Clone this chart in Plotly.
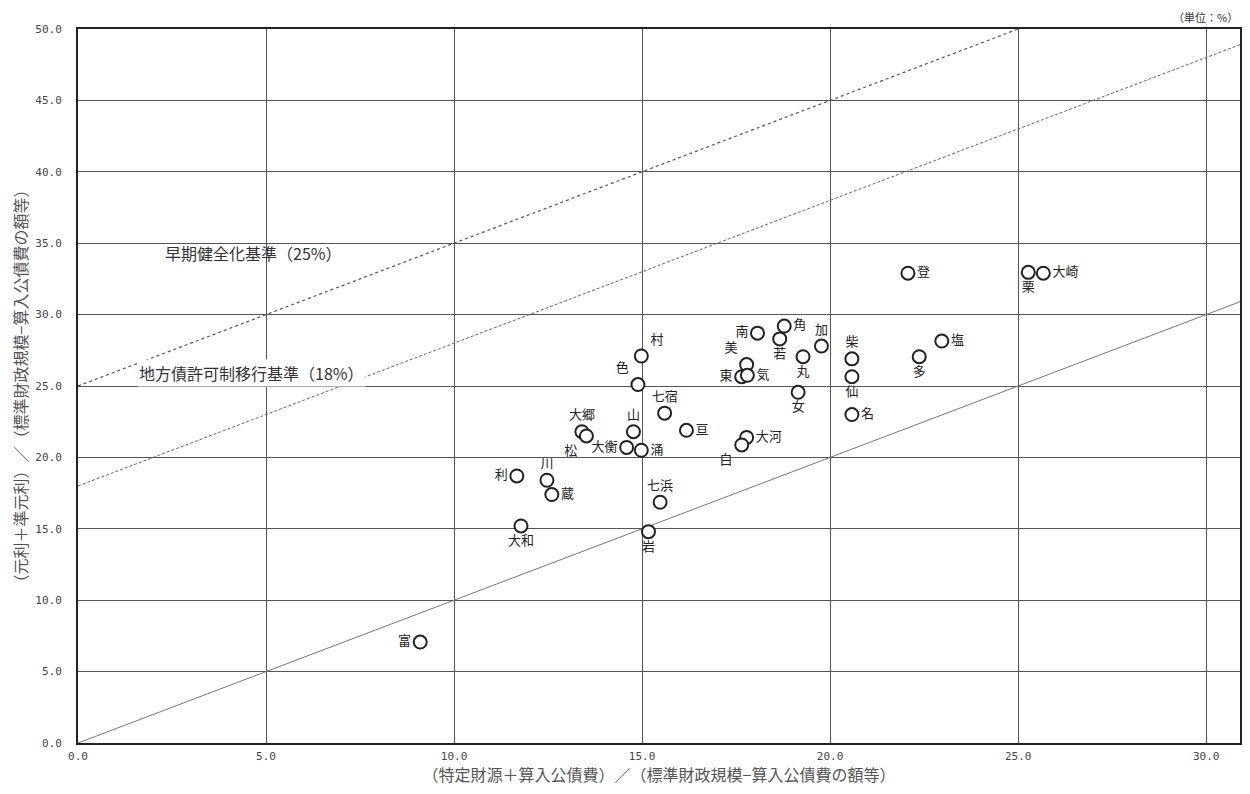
import plotly.graph_objects as go

names = ["富", "大和", "利", "川", "蔵", "大郷", "松", "大衡", "涌", "山", "色", "村",
         "七宿", "亘", "七浜", "岩", "大河", "白", "南", "角", "若", "加", "丸", "美",
         "東", "気", "女", "柴", "仙", "名", "多", "塩", "登", "栗", "大崎"]
x_vals = [9.10, 11.78, 11.67, 12.47, 12.60, 13.40, 13.52, 14.59, 14.98, 14.77, 14.89, 14.98,
          15.60, 16.18, 15.48, 15.17, 17.78, 17.65, 18.07, 18.78, 18.66, 19.77, 19.28, 17.78,
          17.65, 17.80, 19.15, 20.58, 20.58, 20.58, 22.37, 22.97, 22.07, 25.27, 25.67]
y_vals = [7.07, 15.20, 18.70, 18.40, 17.40, 21.80, 21.50, 20.70, 20.50, 21.80, 25.10, 27.10,
          23.10, 21.90, 16.86, 14.80, 21.40, 20.87, 28.70, 29.20, 28.30, 27.80, 27.05, 26.50,
          25.65, 25.75, 24.56, 26.90, 25.65, 23.00, 27.05, 28.15, 32.90, 32.96, 32.90]
label_pos = ["middle left", "bottom center", "middle left", "top center", "middle right",
             "top center", "bottom left", "middle left", "middle right", "top center",
             "top left", "top right", "top center", "middle right", "top center",
             "bottom center", "middle right", "bottom left", "middle left", "middle right",
             "bottom center", "top center", "bottom center", "top left", "middle left",
             "middle right", "bottom center", "top center", "bottom center", "middle right",
             "bottom center", "middle right", "middle right", "bottom center", "middle right"]

ref_x = [0, 31]
ref_solid = [0, 31]          # y = x
early_x = [0, 25]
early_y = [25, 50]           # y = x + 25
transfer_x = [0, 31]
transfer_y = [18, 49]        # y = x + 18

tick_vals = [0, 5, 10, 15, 20, 25, 30]
ytick_vals = [0, 5, 10, 15, 20, 25, 30, 35, 40, 45, 50]

jp = "Noto Sans CJK JP"

fig = go.Figure()
fig.add_trace(go.Scatter(x=ref_x, y=ref_solid, mode="lines",
                         line=dict(color="#777777", width=1), hoverinfo="skip"))
fig.add_trace(go.Scatter(x=early_x, y=early_y, mode="lines",
                         line=dict(color="#555555", width=1.2, dash="dot"), hoverinfo="skip"))
fig.add_trace(go.Scatter(x=transfer_x, y=transfer_y, mode="lines",
                         line=dict(color="#666666", width=1, dash="3px,2px"), hoverinfo="skip"))
fig.add_trace(go.Scatter(x=x_vals, y=y_vals, mode="markers+text", text=names,
                         textposition=label_pos,
                         textfont=dict(family=jp, size=13, color="#222222"),
                         marker=dict(size=13, color="white",
                                     line=dict(color="#222222", width=2)),
                         cliponaxis=False))

fig.update_layout(
    width=1234, height=778,
    margin=dict(l=70, r=0, t=21, b=43),
    plot_bgcolor="white", paper_bgcolor="white",
    showlegend=False,
    font=dict(family=jp, color="#333333"),
    xaxis=dict(range=[0, 30.9], tickvals=tick_vals, tickformat=".1f",
               showgrid=True, gridcolor="#555555", gridwidth=1,
               showline=True, linecolor="#222222", linewidth=2, mirror=True,
               zeroline=False, ticks="outside", ticklen=2, tickcolor="white",
               tickfont=dict(family="DejaVu Sans Mono", size=11, color="#444444"),
               title=dict(text="（特定財源＋算入公債費）／（標準財政規模−算入公債費の額等）",
                          font=dict(family=jp, size=16, color="#555555"), standoff=6)),
    yaxis=dict(range=[0, 50], tickvals=ytick_vals, tickformat=".1f",
               showgrid=True, gridcolor="#555555", gridwidth=1,
               showline=True, linecolor="#222222", linewidth=2, mirror=True,
               zeroline=False, ticks="outside", ticklen=12, tickcolor="white",
               tickfont=dict(family="DejaVu Sans Mono", size=11, color="#444444"),
               title=dict(text="（元利＋準元利）／（標準財政規模−算入公債費の額等）",
                          font=dict(family=jp, size=16, color="#555555"), standoff=6)),
    annotations=[
        dict(x=2.26, y=34.3, xref="x", yref="y", text="早期健全化基準（25%）", showarrow=False,
             xanchor="left", yanchor="middle", font=dict(family=jp, size=16, color="#333333")),
        dict(x=1.57, y=25.9, xref="x", yref="y", text="地方債許可制移行基準（18%）", showarrow=False,
             xanchor="left", yanchor="middle", bgcolor="white",
             font=dict(family=jp, size=16, color="#333333")),
        dict(x=1.0, y=1.0, xref="paper", yref="paper", yshift=12, text="（単位：%）",
             showarrow=False, xanchor="right", yanchor="middle",
             font=dict(family=jp, size=11, color="#333333")),
    ],
)

fig.write_html("out.html")
